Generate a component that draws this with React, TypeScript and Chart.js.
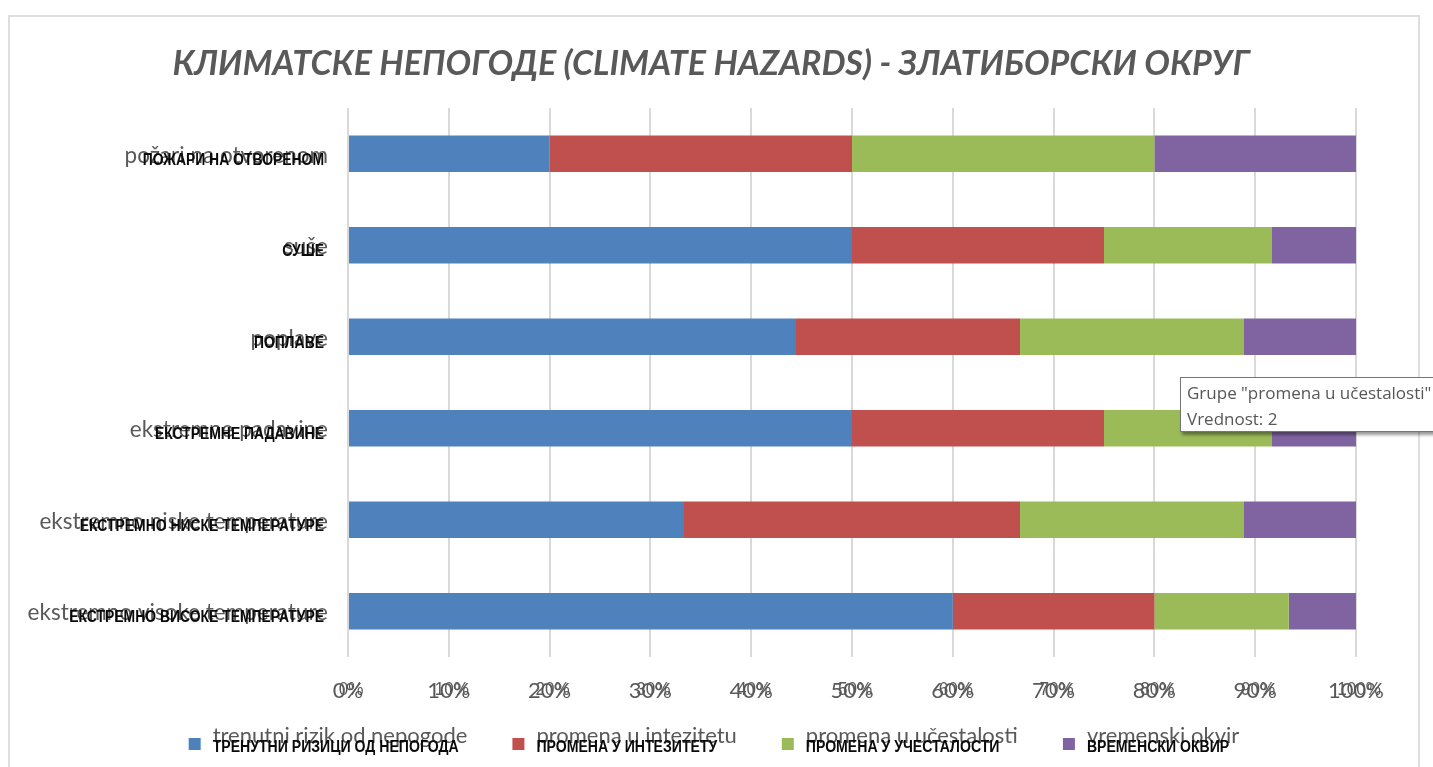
import React, { useEffect, useRef } from "react";
import { Chart, registerables } from "chart.js";

Chart.register(...registerables);

// ---- data ----
const titleText = "КЛИМАТСКЕ НЕПОГОДЕ (CLIMATE HAZARDS) - ЗЛАТИБОРСКИ ОКРУГ";
const categoriesLatin = [
  "požari na otvorenom",
  "suše",
  "poplave",
  "ekstremne padavine",
  "ekstremno niske temperature",
  "ekstremno visoke temperature",
];
const categoriesCyr = [
  "ПОЖАРИ НА ОТВОРЕНОМ",
  "СУШЕ",
  "ПОПЛАВЕ",
  "ЕКСТРЕМНЕ ПАДАВИНЕ",
  "ЕКСТРЕМНО НИСКЕ ТЕМПЕРАТУРЕ",
  "ЕКСТРЕМНО ВИСОКЕ ТЕМПЕРАТУРЕ",
];
const seriesLatin = [
  "trenutni rizik od nepogode",
  "promena u intezitetu",
  "promena u učestalosti",
  "vremenski okvir",
];
const seriesCyr = [
  "ТРЕНУТНИ РИЗИЦИ ОД НЕПОГОДА",
  "ПРОМЕНА У ИНТЕЗИТЕТУ",
  "ПРОМЕНА У УЧЕСТАЛОСТИ",
  "ВРЕМЕНСКИ ОКВИР",
];
const currentRisk = [2, 6, 4, 6, 3, 9];
const intensityChange = [3, 3, 2, 3, 3, 3];
const frequencyChange = [3, 2, 2, 2, 2, 2];
const timeframe = [2, 1, 1, 1, 1, 1];
const xTickValues = [0, 10, 20, 30, 40, 50, 60, 70, 80, 90, 100];
const seriesColors = ["#4f81bd", "#c0504d", "#9bbb59", "#8064a2"];

const allSeries = [currentRisk, intensityChange, frequencyChange, timeframe];
const rowTotals = categoriesLatin.map((_, i) =>
  allSeries.reduce((s, arr) => s + arr[i], 0)
);
const percentSeries = allSeries.map((arr) =>
  arr.map((v, i) => (v / rowTotals[i]) * 100)
);

const W = 1433;
const H = 767;

const LATIN = "Lato, 'Open Sans', sans-serif";
const CYR = "'Liberation Sans', Arial, sans-serif";
const GRAY = "#595959";

function drawCondensed(
  ctx: CanvasRenderingContext2D,
  text: string,
  x: number,
  y: number,
  align: CanvasTextAlign,
  sx: number
) {
  ctx.save();
  ctx.translate(x, y);
  ctx.scale(sx, 1);
  ctx.textAlign = align;
  ctx.fillText(text, 0, 0);
  ctx.restore();
}

const textPlugin = {
  id: "overlayTexts",
  afterDraw(chart: any) {
    const ctx: CanvasRenderingContext2D = chart.ctx;
    const area = chart.chartArea;
    const xs = chart.scales.x;
    const ys = chart.scales.y;
    ctx.save();
    ctx.textBaseline = "alphabetic";

    // title
    ctx.font = "italic bold 34px " + LATIN;
    ctx.fillStyle = GRAY;
    ctx.textAlign = "center";
    ctx.fillText(titleText, 711, 75);

    // y labels
    categoriesLatin.forEach((lab, i) => {
      const y = ys.getPixelForValue(i);
      ctx.font = "22.5px " + LATIN;
      ctx.fillStyle = GRAY;
      ctx.textAlign = "right";
      ctx.fillText(lab, area.left - 20, y + 9);
      ctx.font = "bold 16px " + CYR;
      ctx.fillStyle = "#0a0a0a";
      drawCondensed(ctx, categoriesCyr[i], area.left - 24, y + 11, "right", 0.87);
    });

    // x tick labels (two overlapping layers)
    xTickValues.forEach((v) => {
      const x = xs.getPixelForValue(v);
      const t = v + "%";
      ctx.fillStyle = GRAY;
      ctx.textAlign = "center";
      ctx.font = "22px " + LATIN;
      ctx.fillText(t, x, area.bottom + 41);
      ctx.font = "19px " + CYR;
      drawCondensed(ctx, t, x + 3, area.bottom + 38, "center", 0.9);
    });

    // legend
    const box = 12;
    const gapText = 12;
    const gapItem = 45;
    ctx.font = "22px " + LATIN;
    const widths = seriesLatin.map((s) => ctx.measureText(s).width);
    const total =
      widths.reduce((a, w) => a + w + box + gapText, 0) +
      gapItem * (seriesLatin.length - 1);
    let lx = 714 - total / 2;
    const ly = area.bottom + 81;
    seriesLatin.forEach((s, i) => {
      ctx.fillStyle = seriesColors[i];
      ctx.fillRect(lx, ly, box, box);
      const tx = lx + box + gapText;
      ctx.font = "22px " + LATIN;
      ctx.fillStyle = GRAY;
      ctx.textAlign = "left";
      ctx.fillText(s, tx, ly + 5);
      ctx.font = "bold 16px " + CYR;
      ctx.fillStyle = "#0a0a0a";
      drawCondensed(ctx, seriesCyr[i], tx, ly + 14, "left", 0.88);
      lx = tx + widths[i] + gapItem;
    });

    ctx.restore();
  },
};

export default function App() {
  const ref = useRef<HTMLCanvasElement | null>(null);

  useEffect(() => {
    if (!ref.current) return;
    const chart = new Chart(ref.current, {
      type: "bar",
      data: {
        labels: categoriesLatin,
        datasets: seriesLatin.map((label, i) => ({
          label,
          data: percentSeries[i],
          backgroundColor: seriesColors[i],
          borderWidth: 0,
          barPercentage: 0.4,
          categoryPercentage: 1,
        })),
      },
      options: {
        indexAxis: "y",
        responsive: false,
        animation: false,
        devicePixelRatio: 1,
        layout: { padding: { left: 348, right: 77, top: 108, bottom: 110 } },
        plugins: {
          legend: { display: false },
          title: { display: false },
          tooltip: { enabled: false },
        },
        scales: {
          x: {
            stacked: true,
            min: 0,
            max: 100,
            ticks: { stepSize: 10, display: false },
            grid: { color: "#d9d9d9", lineWidth: 2, drawTicks: false },
            border: { display: false },
          },
          y: {
            stacked: true,
            display: false,
            grid: { display: false },
          },
        },
      },
      plugins: [textPlugin],
    } as any);
    return () => chart.destroy();
  }, []);

  return (
    <div
      style={{
        position: "fixed",
        left: 0,
        top: 0,
        width: W,
        height: H,
        overflow: "hidden",
        background: "#fff",
      }}
    >
      <div
        style={{
          position: "absolute",
          left: 8,
          top: 15,
          width: 1408,
          height: 800,
          border: "2px solid #dedede",
        }}
      />
      <canvas
        ref={ref}
        width={W}
        height={H}
        style={{ position: "absolute", left: 0, top: 0, width: W, height: H }}
      />
      <div
        style={{
          position: "absolute",
          left: 1180,
          top: 377,
          width: 280,
          height: 55,
          border: "1px solid #767676",
          background: "#fff",
          boxShadow: "2px 3px 3px rgba(0,0,0,0.4)",
          padding: "2px 0 0 6px",
          boxSizing: "border-box",
          fontFamily: "'Open Sans', sans-serif",
          fontSize: 17,
          lineHeight: "26px",
          color: "#575757",
          whiteSpace: "nowrap",
        }}
      >
        <div>Grupe "promena u učestalosti"</div>
        <div>Vrednost: 2</div>
      </div>
    </div>
  );
}
